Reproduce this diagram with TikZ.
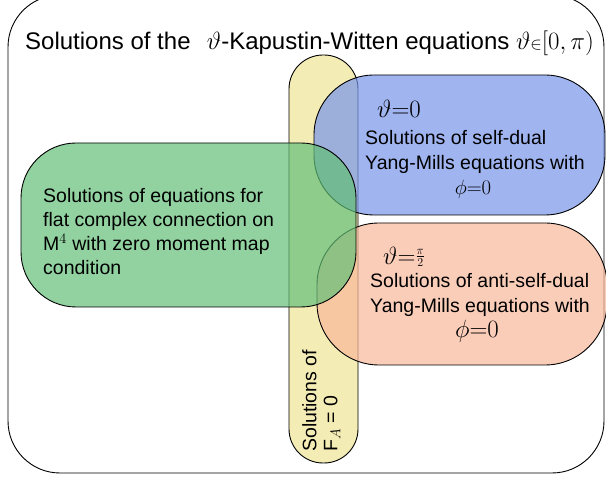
\documentclass[tikz,border=0pt]{standalone}
\usepackage{fontspec}
\setmainfont{Liberation Sans}
\usetikzlibrary{positioning}
\definecolor{fayellow}{RGB}{240,228,150}
\definecolor{sdblue}{RGB}{119,148,233}
\definecolor{asdorange}{RGB}{248,184,155}
\definecolor{flatgreen}{RGB}{98,191,119}

\begin{document}
\begin{tikzpicture}[x=1pt,y=1pt,
  blob/.style={draw,line width=0.9pt,inner sep=0pt,fill opacity=0.7},
  txt/.style={inner sep=0pt,align=left,font=\fontsize{19.5}{25}\selectfont},
  frml/.style={inner sep=0pt,font=\fontsize{26}{30}\selectfont}]
  \useasboundingbox (0,0) rectangle (606,480);
  \node[draw,line width=0.9pt,rounded corners=52pt,minimum width=596pt,minimum height=478pt] (frame) at (306,246) {};
  \node[anchor=base west,inner sep=0pt,font=\fontsize{24}{28}\selectfont] (title) at (25,430)
    {Solutions of the\ \hspace{0.4em}$\vartheta$-Kapustin-Witten equations $\vartheta{\scriptstyle\in}[0,\pi)$};
  % the four sets of solutions
  \node[blob,fill=fayellow,rounded corners=34pt,minimum width=69pt,minimum height=408pt] (fa) at (323.5,221) {};
  \node[blob,fill=sdblue,rounded corners=60pt,minimum width=291pt,minimum height=140pt] (sd) at (459.5,335) {};
  \node[blob,fill=asdorange,rounded corners=62pt,minimum width=290pt,minimum height=142pt] (asd) at (462,186) {};
  \node[blob,fill=flatgreen,rounded corners=55pt,minimum width=335pt,minimum height=164pt] (flat) at (188.5,255) {};
  % labels
  \node[txt,rotate=90,anchor=north west,font=\fontsize{19.5}{21}\selectfont] (fatxt) at (302,28) {Solutions of\\F$_A$ = 0};
  \node[frml,anchor=base west] (sdth) at (377,362) {$\vartheta{=}0$};
  \node[txt,anchor=base west] (sdtxt) at (365,310) {Solutions of self-dual\\Yang-Mills equations with};
  \node[frml,anchor=base,font=\fontsize{22}{26}\selectfont] (sdphi) at (473,285) {$\phi{=}0$};
  \node[frml,anchor=base west] (asdth) at (383,215) {$\vartheta{=}\raisebox{4pt}{$\scriptstyle\frac{\pi}{2}$}$};
  \node[txt,anchor=base west] (asdtxt) at (370,167) {Solutions of anti-self-dual\\Yang-Mills equations with};
  \node[frml,anchor=base] (asdphi) at (477,142) {$\phi{=}0$};
  \node[txt,anchor=base west,font=\fontsize{19.5}{24.3}\selectfont] (flattxt) at (43,205)
    {Solutions of equations for\\flat complex connection on\\M$^4$ with zero moment map\\condition};
\end{tikzpicture}
\end{document}
